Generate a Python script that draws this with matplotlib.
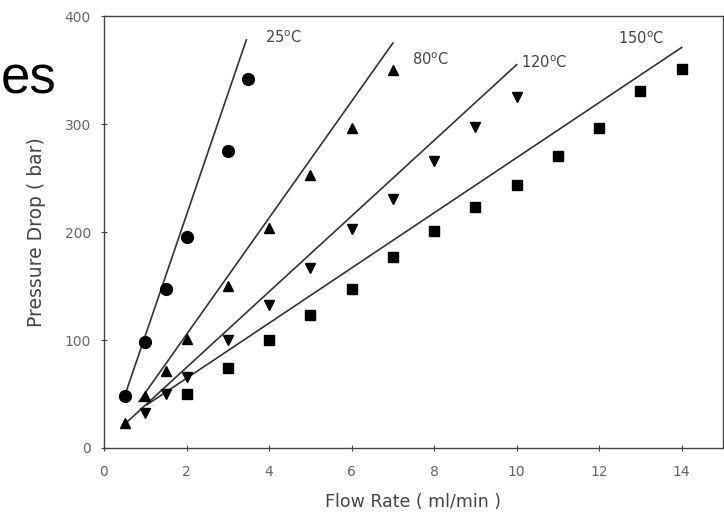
import matplotlib.pyplot as plt

plt.rcParams['font.family'] = ['DejaVu Sans']

# Measured points, pressure drop (bar) vs flow rate (ml/min)
flow_25 = [0.5, 1, 1.5, 2, 3, 3.5]
dp_25 = [48, 98, 147, 195, 275, 342]

flow_80 = [0.5, 1, 1.5, 2, 3, 4, 5, 6, 7]
dp_80 = [23, 48, 71, 101, 150, 204, 253, 296, 350]

flow_120 = [1, 1.5, 2, 3, 4, 5, 6, 7, 8, 9, 10]
dp_120 = [32, 50, 66, 100, 132, 167, 203, 231, 266, 297, 325]

flow_150 = [2, 3, 4, 5, 6, 7, 8, 9, 10, 11, 12, 13, 14]
dp_150 = [50, 74, 100, 123, 147, 177, 201, 223, 244, 270, 296, 331, 351]

# Model lines (end points)
fit_25_x, fit_25_y = [0.5, 3.45], [48, 378]
fit_80_x, fit_80_y = [0.85, 7.0], [43, 375]
fit_120_x, fit_120_y = [0.5, 10.0], [22, 355]
fit_150_x, fit_150_y = [1.04, 14.0], [40, 371]

labels = [r'25$^{\mathrm{o}}$C', r'80$^{\mathrm{o}}$C', r'120$^{\mathrm{o}}$C', r'150$^{\mathrm{o}}$C']
label_x = [3.9, 7.47, 10.1, 12.46]
label_y = [380, 360, 357, 379]

fig = plt.figure(figsize=(7.24, 5.16), dpi=100)
ax = fig.add_axes([0.1436, 0.1318, 0.855, 0.837])

line_col = '#333333'
for fx, fy in [(fit_25_x, fit_25_y), (fit_80_x, fit_80_y),
               (fit_120_x, fit_120_y), (fit_150_x, fit_150_y)]:
    ax.plot(fx, fy, color=line_col, lw=1.2)

ax.plot(flow_25, dp_25, 'o', color='black', ms=8.5, ls='none')
ax.plot(flow_80, dp_80, '^', color='black', ms=6.5, ls='none')
ax.plot(flow_120, dp_120, 'v', color='black', ms=6.5, ls='none')
ax.plot(flow_150, dp_150, 's', color='black', ms=6.5, ls='none')

for t, x, y in zip(labels, label_x, label_y):
    ax.text(x, y, t, fontsize=10.5, color='#444444', ha='left', va='center')

ax.set_xlim(0, 15)
ax.set_ylim(0, 400)
ax.set_xticks(range(0, 15, 2))
ax.set_yticks([0, 100, 200, 300, 400])
ax.tick_params(direction='inout', length=5, width=0.8, colors='#444444',
               labelsize=10, labelcolor='#666666')
ax.tick_params(axis='x', pad=10)
ax.tick_params(axis='y', pad=7)
for s in ax.spines.values():
    s.set_color('#444444')
    s.set_linewidth(1.0)

ax.set_xlabel('Flow Rate ( ml/min )', fontsize=12.5, color='#444444', labelpad=10)
ax.set_ylabel('Pressure Drop ( bar)', fontsize=13.5, color='#444444', labelpad=13)

# leftover slide title fragment on the left
fig.text(1 / 724, 1 - 93 / 516, 'es', fontsize=38, ha='left', va='baseline',
         family='Liberation Sans')

fig.savefig('out.png', dpi=100)
